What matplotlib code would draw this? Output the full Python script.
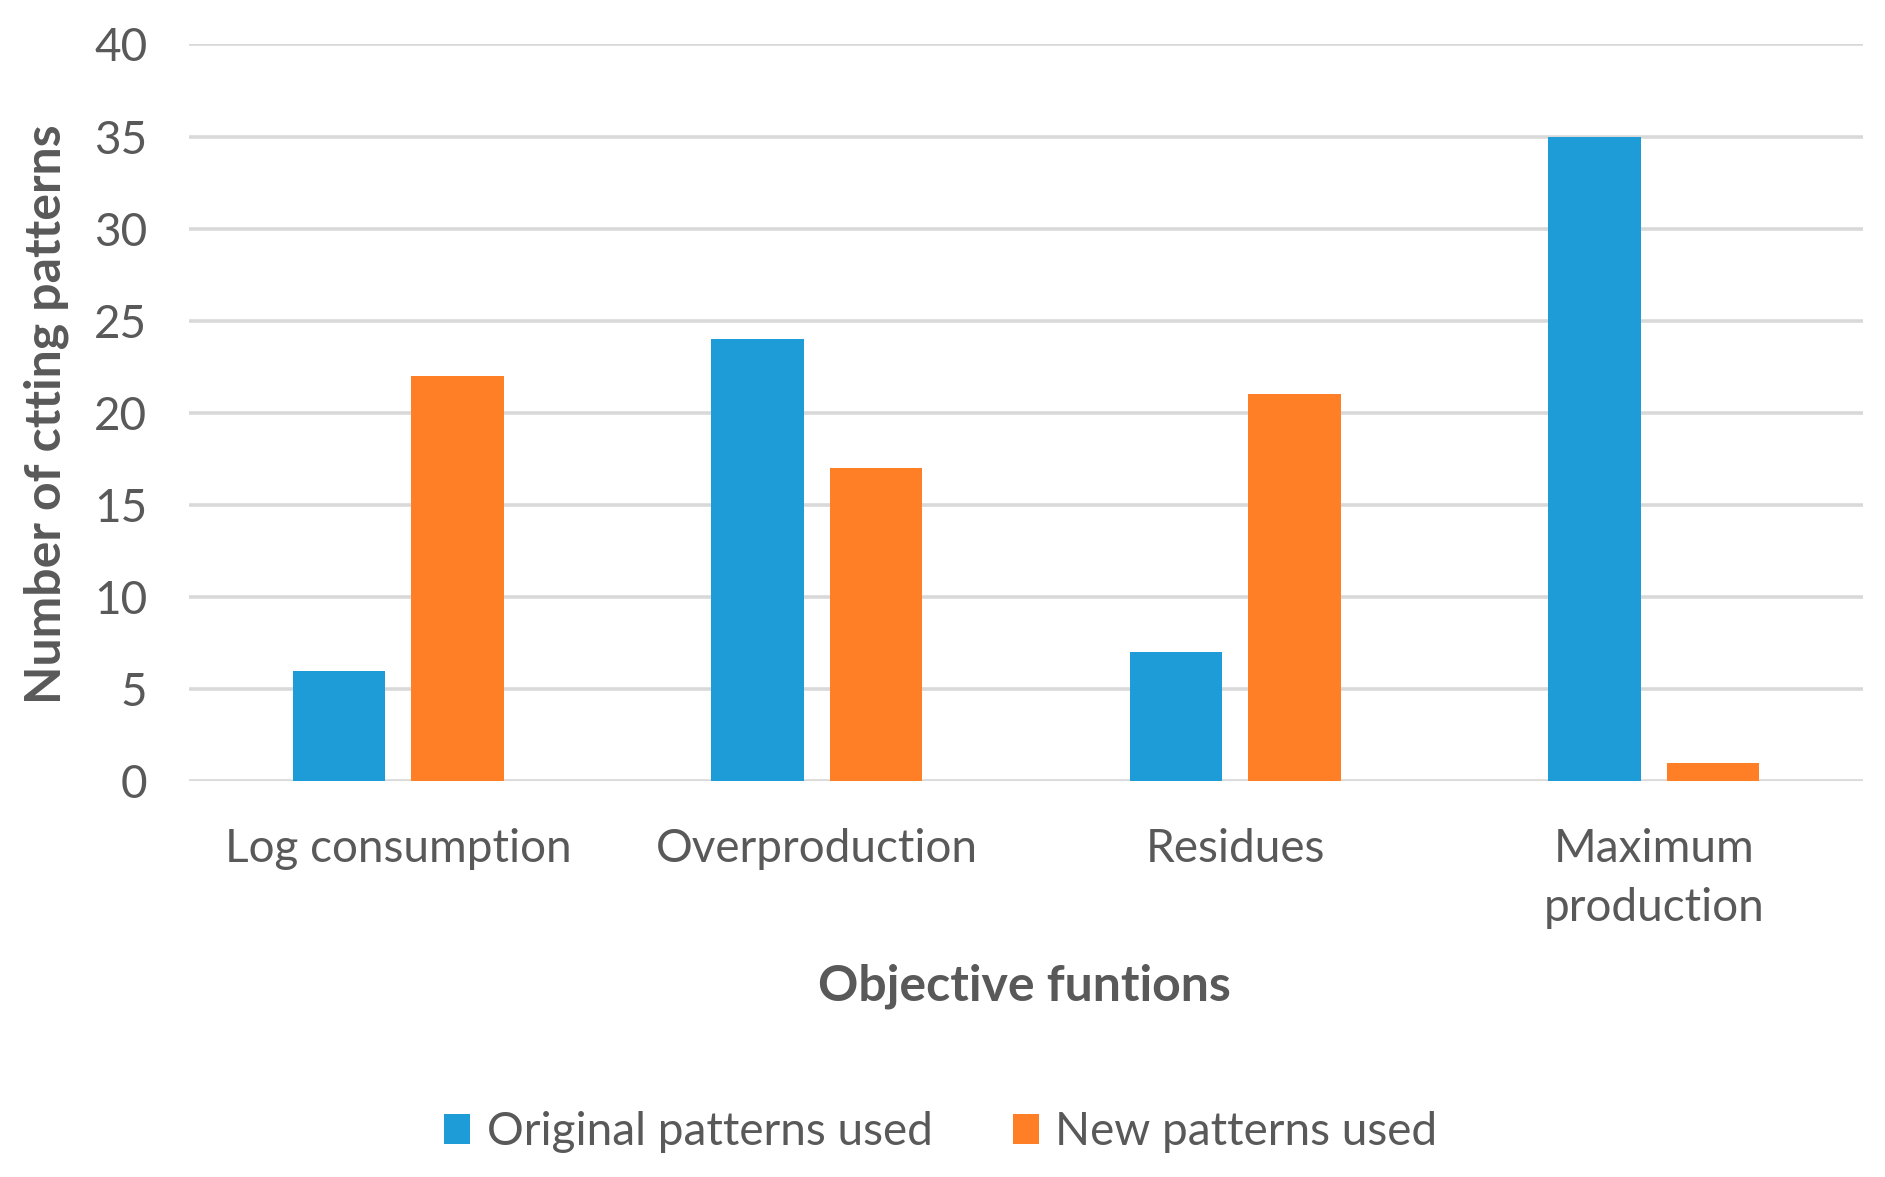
import numpy as np
import matplotlib
matplotlib.use('Agg')
from matplotlib import pyplot as plt

categories = ['Log consumption', 'Overproduction', 'Residues', 'Maximum\nproduction']
original_used = [6, 24, 7, 35]
new_used = [22, 17, 21, 1]
yticks = [0, 5, 10, 15, 20, 25, 30, 35, 40]

plt.rcParams['font.family'] = ['Lato', 'DejaVu Sans']
txt = '#595959'

fig = plt.figure(figsize=(18.85, 11.77), dpi=100)
ax = fig.add_axes([0.1003, 0.3364, 0.888, 0.6258])

x = np.arange(len(categories))
w = 0.221
off = 0.142
ax.bar(x - off, original_used, w, color='#1E9CD8', label='Original patterns used', zorder=3)
ax.bar(x + off, new_used, w, color='#FF7F27', label='New patterns used', zorder=3)

ax.set_xlim(-0.5, len(categories) - 0.5)
ax.set_ylim(0, 40)
ax.set_yticks(yticks)
ax.set_xticks(x)
ax.set_xticklabels(categories, linespacing=1.5)
ax.yaxis.grid(True, color='#D9D9D9', linewidth=2.6, zorder=0)
ax.set_axisbelow(True)
for s in ax.spines.values():
    s.set_visible(False)
ax.tick_params(axis='y', length=0, pad=30, labelsize=33, labelcolor=txt)
ax.tick_params(axis='x', length=0, pad=33.5, labelsize=33, labelcolor=txt)
for lab in ax.get_xticklabels():
    lab.set_verticalalignment('top')

fig.text(0.5435, 0.162, 'Objective funtions', ha='center', va='center',
         fontsize=36, fontweight='bold', color=txt)
fig.text(0.0245, 0.648, 'Number of ctting patterns', ha='center', va='center',
         rotation=90, fontsize=36, fontweight='bold', color=txt)

fig.legend(loc='center', bbox_to_anchor=(0.499, 0.038), ncol=2, frameon=False,
           fontsize=33, labelcolor=txt, handlelength=0.58, handleheight=0.62,
           handletextpad=0.35, columnspacing=1.75)

fig.savefig('out.png', dpi=100)
